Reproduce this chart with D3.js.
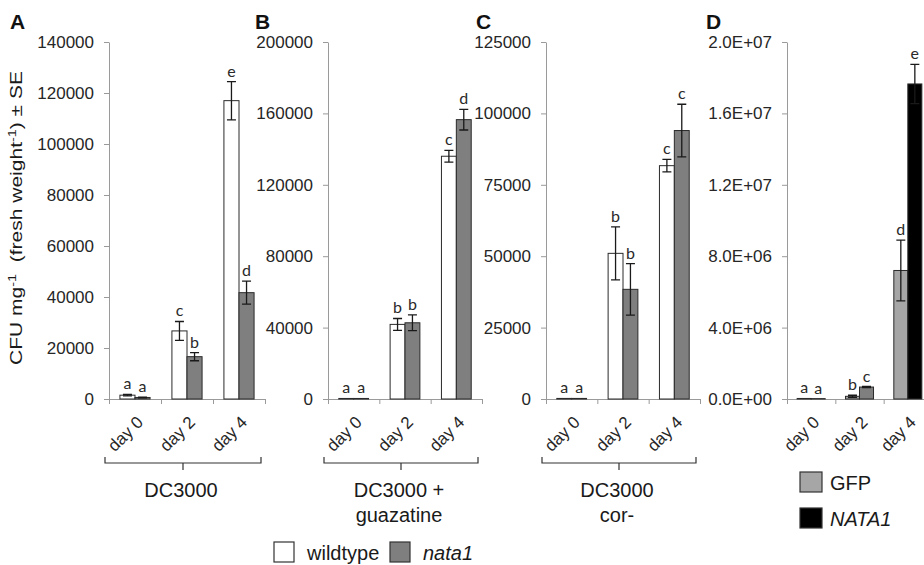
<!DOCTYPE html>
<html>
<head>
<meta charset="utf-8">
<script src="https://cdn.jsdelivr.net/npm/d3@7"></script>
<style>
  body { margin: 0; background: #fff; }
  svg { display: block; font-family: "Liberation Sans", Arial, sans-serif; }
  .axis path, .axis line { stroke: #9a9a9a; }
</style>
</head>
<body>
<svg width="924" height="565"></svg>
<script>
var days = ["day 0", "day 2", "day 4"];

// panel A - DC3000
var aWild = [1500, 26700, 117000];
var aWildSE = [300, 3700, 7500];
var aNata = [600, 16600, 41700];
var aNataSE = [150, 1600, 4500];
var aWildLetters = ["a", "c", "e"];
var aNataLetters = ["a", "b", "d"];
var aTicks = [0, 20000, 40000, 60000, 80000, 100000, 120000, 140000];

// panel B - DC3000 + guazatine
var bWild = [300, 41800, 136000];
var bWildSE = [0, 3300, 3300];
var bNata = [300, 42700, 156500];
var bNataSE = [0, 4400, 5800];
var bWildLetters = ["a", "b", "c"];
var bNataLetters = ["a", "b", "d"];
var bTicks = [0, 40000, 80000, 120000, 160000, 200000];

// panel C - DC3000 cor-
var cWild = [200, 51000, 81700];
var cWildSE = [0, 9300, 2200];
var cNata = [200, 38400, 94000];
var cNataSE = [0, 9000, 9200];
var cWildLetters = ["a", "b", "c"];
var cNataLetters = ["a", "b", "c"];
var cTicks = [0, 25000, 50000, 75000, 100000, 125000];

// panel D - GFP vs NATA1
var dGfp = [30000, 150000, 7200000];
var dGfpSE = [0, 60000, 1700000];
var dNata1 = [20000, 670000, 17650000];
var dNata1SE = [0, 30000, 1100000];
var dGfpLetters = ["a", "b", "d"];
var dNata1Letters = ["a", "c", "e"];
var dTicks = [0, 4000000, 8000000, 12000000, 16000000, 20000000];
var dTickLabels = ["0.0E+00", "4.0E+06", "8.0E+06", "1.2E+07", "1.6E+07", "2.0E+07"];

var svg = d3.select("svg");
var yTop = 42, yBottom = 399;

function drawPanel(p) {
    var g = svg.append("g");

    var y = d3.scaleLinear()
              .domain([0, p.ticks[p.ticks.length - 1]])
              .range([yBottom, yTop]);

    var xb = d3.scaleLinear().domain([0, 3]).range([p.x0, p.x1]);
    var x0 = d3.scaleBand().domain(days).range([p.x0, p.x1]);
    var bw = x0.bandwidth() * 0.29;

    var yAxis = g.append("g")
     .attr("class", "axis")
     .attr("transform", "translate(" + p.x0 + ",0)")
     .call(d3.axisLeft(y)
             .tickValues(p.ticks)
             .tickSize(5)
             .tickSizeOuter(0)
             .tickPadding(10)
             .tickFormat(function(d, i) { return p.tickLabels ? p.tickLabels[i] : d; }));
    yAxis.selectAll(".tick text")
         .style("font-family", "'Liberation Sans', Arial, sans-serif")
         .style("font-size", "17px")
         .attr("fill", "#262626");

    // x axis, ticks sit on the group borders
    g.append("g")
     .attr("class", "axis")
     .attr("transform", "translate(0," + yBottom + ")")
     .call(d3.axisBottom(xb).tickValues([0, 1, 2, 3]).tickSize(5).tickSizeOuter(0).tickFormat(""));

    var series = [
        { v: p.s1, se: p.s1se, lt: p.s1l, fill: p.c1, off: -bw },
        { v: p.s2, se: p.s2se, lt: p.s2l, fill: p.c2, off: 0 }
    ];

    series.forEach(function(s) {
        var rows = s.v.map(function(v, i) {
            return { v: v, se: s.se[i], lt: s.lt[i], day: days[i],
                     fill: Array.isArray(s.fill) ? s.fill[i] : s.fill };
        });
        var left = function(d) { return x0(d.day) + x0.bandwidth() / 2 + s.off; };
        var mid = function(d) { return left(d) + bw / 2; };

        g.selectAll(null)
         .data(rows)
         .enter().append("rect")
         .attr("x", left)
         .attr("y", function(d) { return y(d.v); })
         .attr("width", bw)
         .attr("height", function(d) { return yBottom - y(d.v); })
         .attr("fill", function(d) { return d.fill; })
         .attr("stroke", "#2b2b2b")
         .attr("stroke-width", 1);

        g.selectAll(null)
         .data(rows.filter(function(d) { return d.se > 0; }))
         .enter().append("path")
         .attr("fill", "none")
         .attr("stroke", "#1a1a1a")
         .attr("stroke-width", 1.3)
         .attr("d", function(d) {
             var m = mid(d), t = y(d.v + d.se), b = y(Math.max(0, d.v - d.se));
             return "M" + m + "," + t + "V" + b +
                    "M" + (m - 4.5) + "," + t + "H" + (m + 4.5) +
                    "M" + (m - 4.5) + "," + b + "H" + (m + 4.5);
         });

        g.selectAll(null)
         .data(rows)
         .enter().append("text")
         .attr("x", mid)
         .attr("y", function(d) { return y(d.v + d.se) - 5; })
         .attr("text-anchor", "middle")
         .style("font-family", "Lato, 'Open Sans', sans-serif")
         .style("font-size", "16px")
         .attr("fill", "#2a2a2a")
         .text(function(d) { return d.lt; });
    });

    // day labels
    g.selectAll(null)
     .data(days)
     .enter().append("text")
     .attr("transform", function(d) { return "translate(" + (x0(d) + x0.bandwidth() / 2 + 5) + ",419) rotate(-45)"; })
     .attr("text-anchor", "end")
     .attr("dy", "0.35em")
     .style("font-size", "17px")
     .attr("fill", "#262626")
     .text(function(d) { return d; });

    g.append("text")
     .attr("x", p.letterX)
     .attr("y", 29)
     .style("font-size", "21px")
     .style("font-weight", "bold")
     .attr("fill", "#111")
     .text(p.letter);

    if (p.group) {
        var bl = p.x0 - 4, br = p.x1 - 4, bm = (bl + br) / 2;
        g.append("path")
         .attr("d", "M" + bl + ",457V463H" + br + "V457M" + bm + ",463V470")
         .attr("fill", "none")
         .attr("stroke", "#333")
         .attr("stroke-width", 1.2);
        g.selectAll(null)
         .data(p.group)
         .enter().append("text")
         .attr("x", bm - 2)
         .attr("y", function(d, i) { return 497 + i * 25; })
         .attr("text-anchor", "middle")
         .style("font-size", "20px")
         .attr("fill", "#1a1a1a")
         .text(function(d) { return d; });
    }
}

drawPanel({ letter: "A", letterX: 10, x0: 109, x1: 265, ticks: aTicks,
            s1: aWild, s1se: aWildSE, s1l: aWildLetters, c1: "#ffffff",
            s2: aNata, s2se: aNataSE, s2l: aNataLetters, c2: "#7f7f7f",
            group: ["DC3000"] });
drawPanel({ letter: "B", letterX: 255, x0: 328, x1: 482, ticks: bTicks,
            s1: bWild, s1se: bWildSE, s1l: bWildLetters, c1: "#ffffff",
            s2: bNata, s2se: bNataSE, s2l: bNataLetters, c2: "#7f7f7f",
            group: ["DC3000 +", "guazatine"] });
drawPanel({ letter: "C", letterX: 476, x0: 546, x1: 700, ticks: cTicks,
            s1: cWild, s1se: cWildSE, s1l: cWildLetters, c1: "#ffffff",
            s2: cNata, s2se: cNataSE, s2l: cNataLetters, c2: "#7f7f7f",
            group: ["DC3000", "cor-"] });
drawPanel({ letter: "D", letterX: 706, x0: 787, x1: 932, ticks: dTicks, tickLabels: dTickLabels,
            s1: dGfp, s1se: dGfpSE, s1l: dGfpLetters, c1: "#a6a6a6",
            s2: dNata1, s2se: dNata1SE, s2l: dNata1Letters, c2: ["#000000", "#7f7f7f", "#000000"] });

// y axis title
var yt = svg.append("text")
            .attr("transform", "translate(22,218) rotate(-90)")
            .attr("text-anchor", "middle")
            .attr("textLength", 294)
            .attr("lengthAdjust", "spacingAndGlyphs")
            .style("font-size", "16px")
            .attr("fill", "#1a1a1a");
yt.append("tspan").text("CFU mg");
yt.append("tspan").attr("dy", -6).style("font-size", "11px").text("-1");
yt.append("tspan").attr("dy", 6).text("\u00a0\u00a0(fresh weight");
yt.append("tspan").attr("dy", -6).style("font-size", "11px").text("-1");
yt.append("tspan").attr("dy", 6).text(") \u00b1 SE");

// legends
var legend1 = [
    { label: "wildtype", fill: "#ffffff", x: 274, italic: false },
    { label: "nata1", fill: "#7f7f7f", x: 390, italic: true }
];
var legend2 = [
    { label: "GFP", fill: "#a6a6a6", y: 472, italic: false },
    { label: "NATA1", fill: "#000000", y: 508, italic: true }
];

legend1.forEach(function(d) {
    svg.append("rect").attr("x", d.x).attr("y", 542).attr("width", 20).attr("height", 20)
       .attr("fill", d.fill).attr("stroke", "#333").attr("stroke-width", 1.2);
    svg.append("text").attr("x", d.x + 33).attr("y", 560)
       .style("font-size", "20px").style("font-style", d.italic ? "italic" : "normal")
       .attr("fill", "#1a1a1a").text(d.label);
});

legend2.forEach(function(d) {
    svg.append("rect").attr("x", 800).attr("y", d.y).attr("width", 22).attr("height", 20)
       .attr("fill", d.fill).attr("stroke", "#333").attr("stroke-width", 1.2);
    svg.append("text").attr("x", 830).attr("y", d.y + 18)
       .style("font-size", "20px").style("font-style", d.italic ? "italic" : "normal")
       .attr("fill", "#1a1a1a").text(d.label);
});
</script>
</body>
</html>
